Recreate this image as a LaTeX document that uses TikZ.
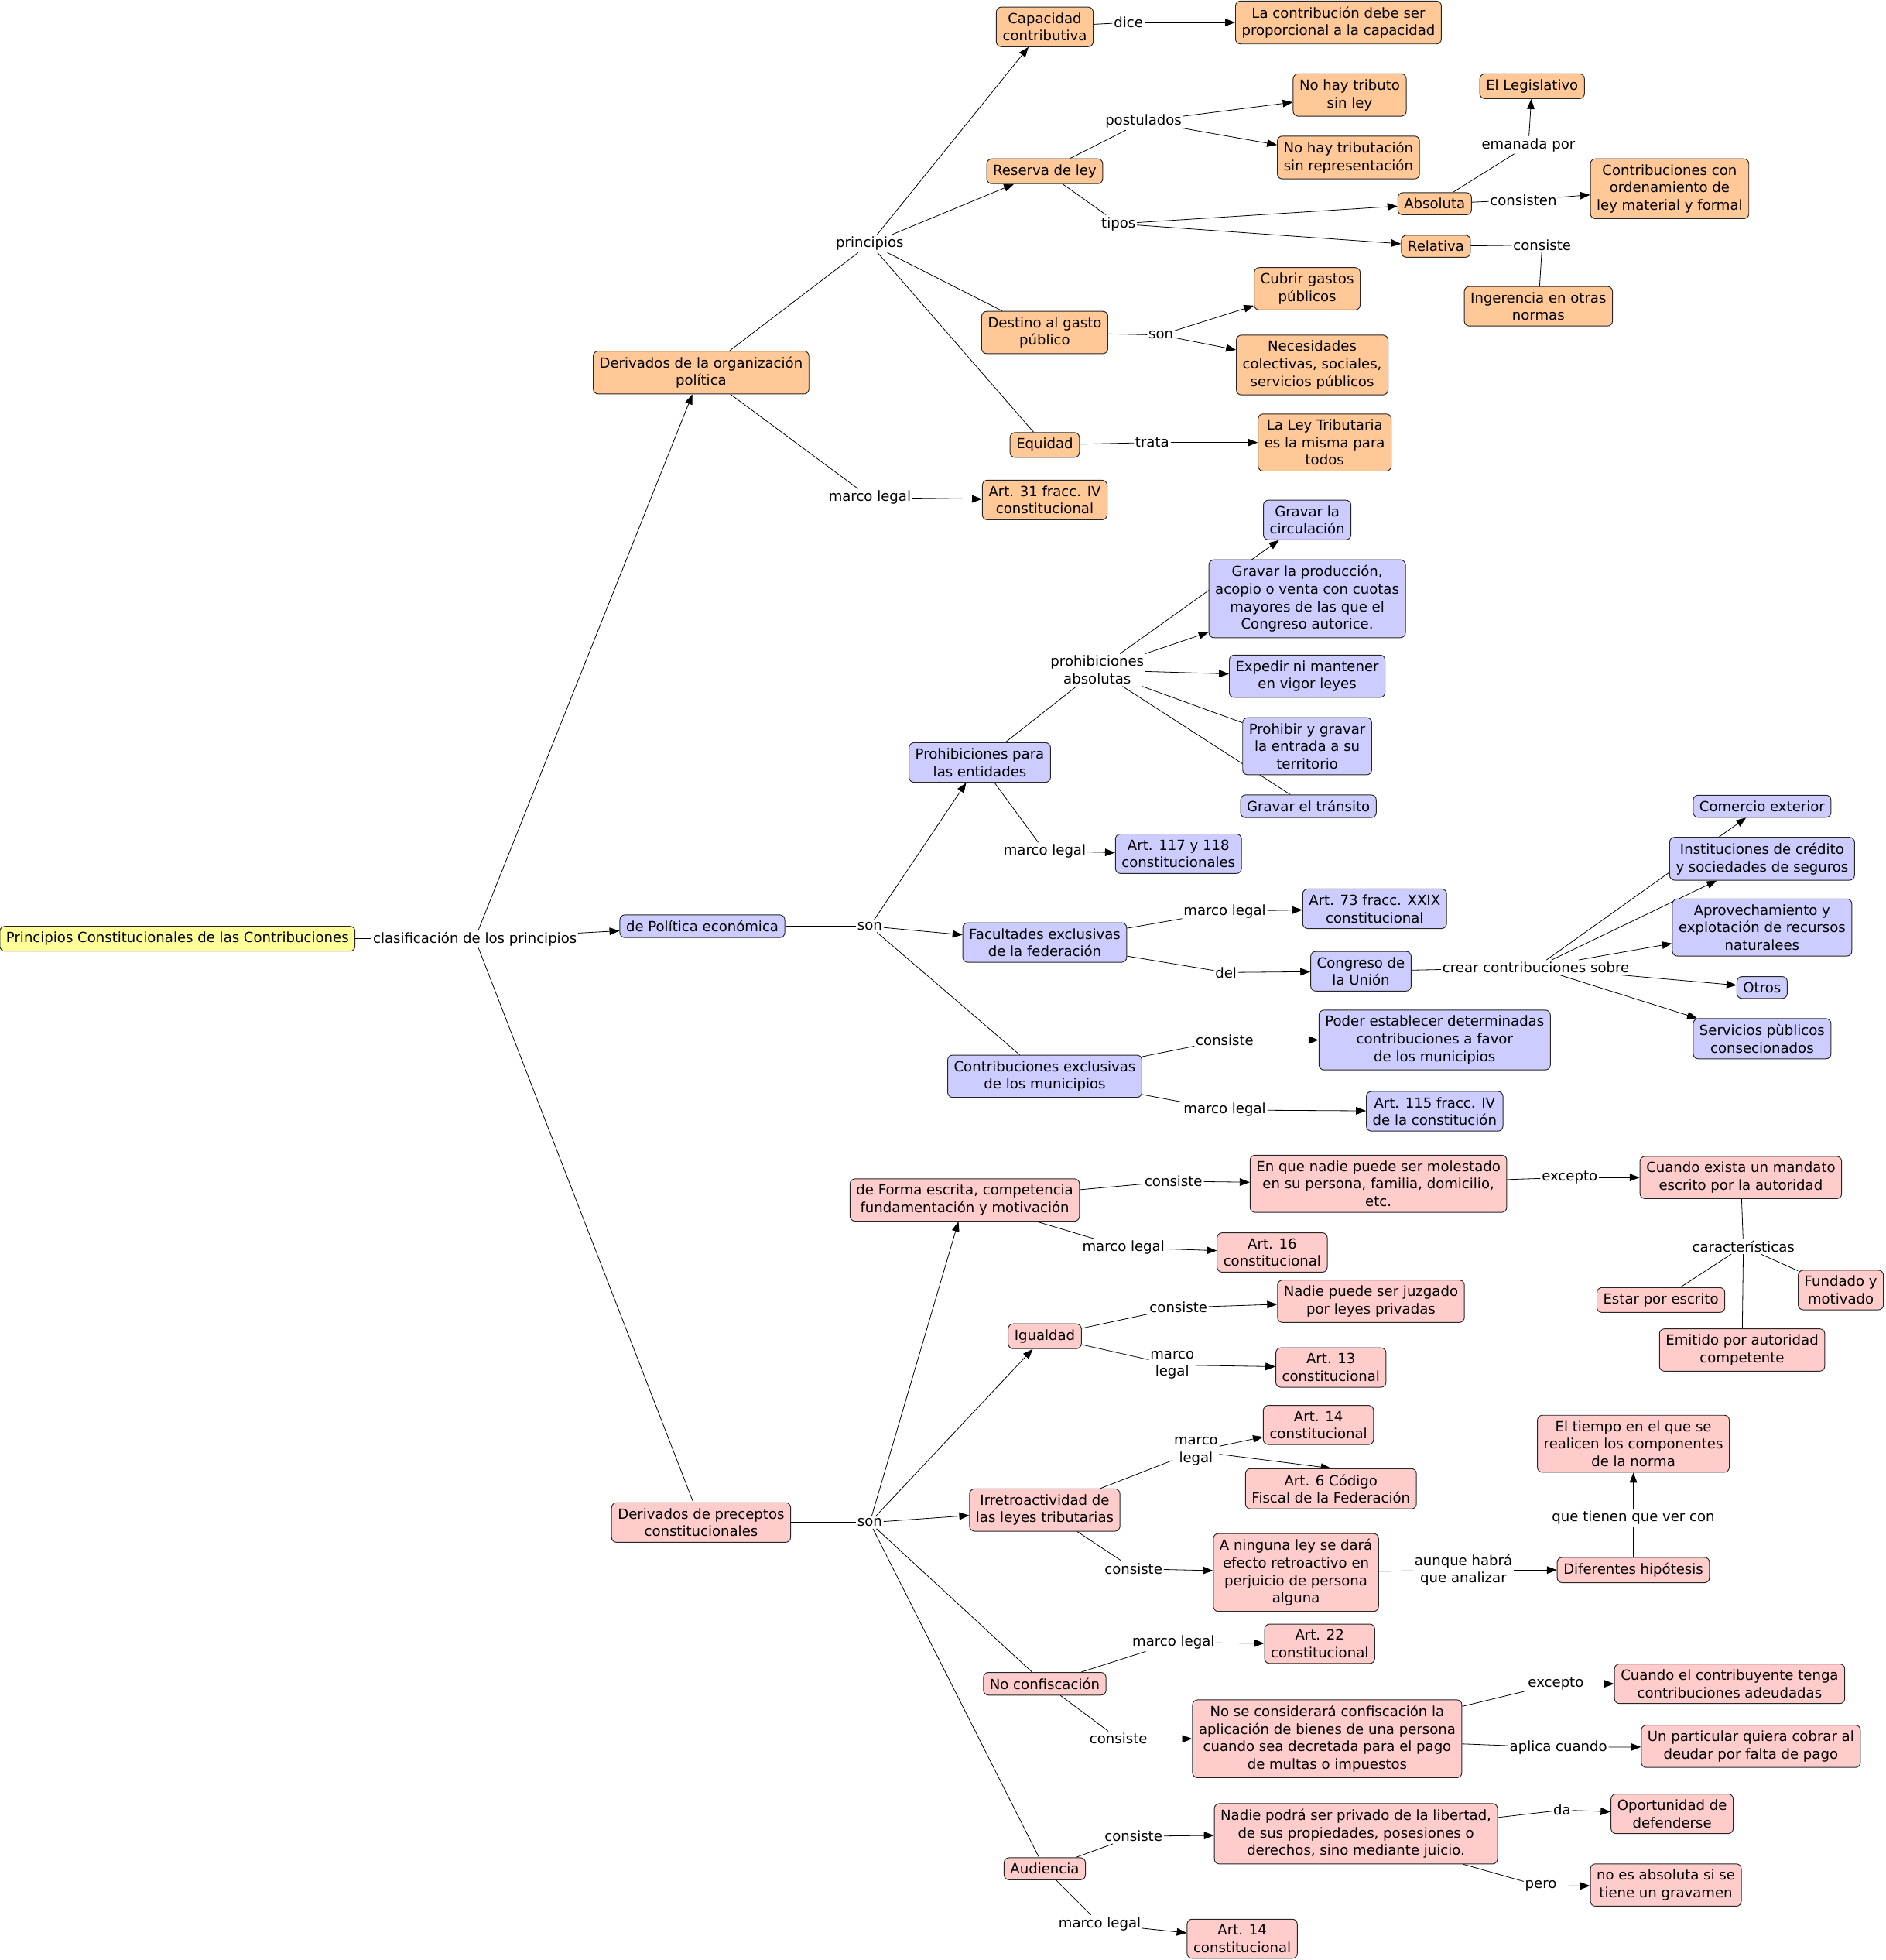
\documentclass[tikz,border=0pt]{standalone}
\usepackage{fontspec}
\setmainfont{DejaVu Sans}
\usetikzlibrary{arrows.meta,backgrounds}
\definecolor{corg}{RGB}{255,200,150}
\definecolor{cblue}{RGB}{204,204,255}
\definecolor{cpink}{RGB}{255,204,204}
\definecolor{cyel}{RGB}{255,255,153}
\tikzset{
  cbox/.style={draw=black!85, line width=0.6pt, rounded corners=4pt, align=center, inner xsep=5pt, inner ysep=4.5pt, font=\fontsize{11.2}{14}\selectfont},
  orgbox/.style={cbox, fill=corg},
  bluebox/.style={cbox, fill=cblue},
  pinkbox/.style={cbox, fill=cpink},
  rootbox/.style={cbox, fill=cyel},
  lp/.style={align=center, inner xsep=1pt, inner ysep=1.5pt, font=\fontsize{11.2}{14}\selectfont},
  conn/.style={line width=0.5pt, draw=black},
  arr/.style={conn, -{Triangle[length=8pt,width=6pt]}},
}
\begin{document}
\begin{tikzpicture}[x=1pt,y=-1pt]
\begin{scope}[on background layer]
\fill[white] (0,0) rectangle (1509,1568);
\end{scope}
\useasboundingbox (0,0) rectangle (1509,1568);
% root
\node[rootbox] (root) at (142,751) {Principios Constitucionales de las Contribuciones};
\node[lp] (clasif) at (380,751) {clasificación de los principios};
\node[orgbox] (orgpol) at (561,298) {Derivados de la organización\\política};
\node[bluebox] (polecon) at (562,741) {de Política económica};
\node[pinkbox] (precep) at (561,1218) {Derivados de preceptos\\constitucionales};
% orange
\node[orgbox] (cap) at (836,21.5) {Capacidad\\contributiva};
\node[lp] (dice) at (903,18) {dice};
\node[orgbox] (lacon) at (1071,18) {La contribución debe ser\\proporcional a la capacidad};
\node[lp] (princ) at (696,195) {principios};
\node[orgbox] (reserva) at (836,137) {Reserva de ley};
\node[lp] (postul) at (915,97) {postulados};
\node[orgbox] (notrib) at (1080,76) {No hay tributo\\sin ley};
\node[orgbox] (notribn) at (1079,126) {No hay tributación\\sin representación};
\node[lp] (tipos) at (895,179) {tipos};
\node[orgbox] (absol) at (1148,163) {Absoluta};
\node[orgbox] (relat) at (1149,197) {Relativa};
\node[lp] (emanada) at (1223,116) {emanada por};
\node[orgbox] (legis) at (1226,69) {El Legislativo};
\node[lp] (consisten) at (1219,160) {consisten};
\node[orgbox] (ordena) at (1336,151) {Contribuciones con\\ordenamiento de\\ley material y formal};
\node[lp] (consR) at (1234,196) {consiste};
\node[orgbox] (ingeren) at (1231,245) {Ingerencia en otras\\normas};
\node[orgbox] (destino) at (836,266) {Destino al gasto\\público};
\node[lp] (son1) at (929,268) {son};
\node[orgbox] (cubrir) at (1046,231) {Cubrir gastos\\públicos};
\node[orgbox] (necesid) at (1050,292) {Necesidades\\colectivas, sociales,\\servicios públicos};
\node[orgbox] (equidad) at (836,356) {Equidad};
\node[lp] (trata) at (922,354) {trata};
\node[orgbox] (leytrib) at (1060,354) {La Ley Tributaria\\es la misma para\\todos};
\node[lp] (mlorg) at (696,398) {marco legal};
\node[orgbox] (art31) at (836,400) {Art. 31 fracc. IV\\constitucional};
% blue
\node[lp] (son2) at (696,741) {son};
\node[bluebox] (prohib) at (784,610) {Prohibiciones para\\las entidades};
\node[lp] (prohabs) at (878,536) {prohibiciones\\absolutas};
\node[bluebox] (circ) at (1046,416) {Gravar la\\circulación};
\node[bluebox] (produc) at (1046,479) {Gravar la producción,\\acopio o venta con cuotas\\mayores de las que el\\Congreso autorice.};
\node[bluebox] (expedir) at (1046,541) {Expedir ni mantener\\en vigor leyes};
\node[bluebox] (entrada) at (1046,597) {Prohibir y gravar\\la entrada a su\\territorio};
\node[bluebox] (transito) at (1047,645) {Gravar el tránsito};
\node[lp] (mlprohib) at (836,681) {marco legal};
\node[bluebox] (art117) at (943,683) {Art. 117 y 118\\constitucionales};
\node[bluebox] (facult) at (836,754) {Facultades exclusivas\\de la federación};
\node[lp] (mlfac) at (980,729) {marco legal};
\node[bluebox] (art73) at (1100,727) {Art. 73 fracc. XXIX\\constitucional};
\node[lp] (del) at (981,778) {del};
\node[bluebox] (congreso) at (1089,777) {Congreso de\\la Unión};
\node[lp] (crear) at (1229,774) {crear contribuciones sobre};
\node[bluebox] (comercio) at (1410,645) {Comercio exterior};
\node[bluebox] (instit) at (1410,687) {Instituciones de crédito\\y sociedades de seguros};
\node[bluebox] (aprov) at (1410,742) {Aprovechamiento y\\explotación de recursos\\naturalees};
\node[bluebox] (otros) at (1410,790) {Otros};
\node[bluebox] (servic) at (1410,831) {Servicios pùblicos\\consecionados};
\node[bluebox] (contmun) at (836,861) {Contribuciones exclusivas\\de los municipios};
\node[lp] (consmun) at (980,832) {consiste};
\node[bluebox] (poder) at (1148,832) {Poder establecer determinadas\\contribuciones a favor\\de los municipios};
\node[lp] (mlmun) at (980,888) {marco legal};
\node[bluebox] (art115) at (1148,889) {Art. 115 fracc. IV\\de la constitución};
% pink
\node[lp] (son3) at (696,1218) {son};
\node[pinkbox] (forma) at (772,960) {de Forma escrita, competencia\\fundamentación y motivación};
\node[lp] (consF) at (939,945) {consiste};
\node[pinkbox] (molest) at (1103,947) {En que nadie puede ser molestado\\en su persona, familia, domicilio,\\etc.};
\node[lp] (exc1) at (1256,942) {excepto};
\node[pinkbox] (mandato) at (1393,942) {Cuando exista un mandato\\escrito por la autoridad};
\node[lp] (caract) at (1395,997) {características};
\node[pinkbox] (escrito) at (1329,1040) {Estar por escrito};
\node[pinkbox] (fundado) at (1473,1032) {Fundado y\\motivado};
\node[pinkbox] (emitido) at (1394,1080) {Emitido por autoridad\\competente};
\node[lp] (mlF) at (899,998) {marco legal};
\node[pinkbox] (art16) at (1018,1002) {Art. 16\\constitucional};
\node[pinkbox] (igual) at (836,1069) {Igualdad};
\node[lp] (consI) at (943,1046) {consiste};
\node[pinkbox] (juzgado) at (1097,1041) {Nadie puede ser juzgado\\por leyes privadas};
\node[lp] (mlI) at (938,1092) {marco\\legal};
\node[pinkbox] (art13) at (1065,1094) {Art. 13\\constitucional};
\node[pinkbox] (irretro) at (836,1208) {Irretroactividad de\\las leyes tributarias};
\node[lp] (mlR) at (957,1161) {marco\\legal};
\node[pinkbox] (art14a) at (1055,1140) {Art. 14\\constitucional};
\node[pinkbox] (art6) at (1065,1191) {Art. 6 Código\\Fiscal de la Federación};
\node[lp] (consR2) at (907,1255) {consiste};
\node[pinkbox] (ninguna) at (1037,1258) {A ninguna ley se dará\\efecto retroactivo en\\perjuicio de persona\\alguna};
\node[lp] (aunque) at (1171,1256) {aunque habrá\\que analizar};
\node[pinkbox] (hipot) at (1307,1256) {Diferentes hipótesis};
\node[lp] (quetienen) at (1307,1214) {que tienen que ver con};
\node[pinkbox] (tiempo) at (1307,1155) {El tiempo en el que se\\realicen los componentes\\de la norma};
\node[pinkbox] (noconf) at (836,1347) {No confiscación};
\node[lp] (mlN) at (939,1314) {marco legal};
\node[pinkbox] (art22) at (1056,1315) {Art. 22\\constitucional};
\node[lp] (consN) at (895,1391) {consiste};
\node[pinkbox] (nocons) at (1062,1391) {No se considerará confiscación la\\aplicación de bienes de una persona\\cuando sea decretada para el pago\\de multas o impuestos};
\node[lp] (exc2) at (1245,1347) {excepto};
\node[pinkbox] (adeud) at (1384,1347) {Cuando el contribuyente tenga\\contribuciones adeudadas};
\node[lp] (aplica) at (1247,1398) {aplica cuando};
\node[pinkbox] (particular) at (1401,1397) {Un particular quiera cobrar al\\deudar por falta de pago};
\node[pinkbox] (audien) at (836,1495) {Audiencia};
\node[lp] (consA) at (907,1469) {consiste};
\node[pinkbox] (privado) at (1085,1467) {Nadie podrá ser privado de la libertad,\\de sus propiedades, posesiones o\\derechos, sino mediante juicio.};
\node[lp] (da) at (1250,1448) {da};
\node[pinkbox] (oport) at (1338,1451) {Oportunidad de\\defenderse};
\node[lp] (pero) at (1233,1509) {pero};
\node[pinkbox] (noabs) at (1333,1508) {no es absoluta si se\\tiene un gravamen};
\node[lp] (mlA) at (880,1539) {marco legal};
\node[pinkbox] (art14b) at (994,1551) {Art. 14\\constitucional};
% connectors
\begin{scope}[on background layer]
\draw[conn] (root) -- (clasif);
\draw[arr] (clasif) -- (orgpol);
\draw[arr] (clasif) -- (polecon);
\draw[conn] (clasif) -- (precep);
% orange
\draw[conn] (orgpol) -- (princ);
\draw[arr] (princ) -- (cap);
\draw[arr] (princ) -- (reserva);
\draw[conn] (princ) -- (destino);
\draw[conn] (princ) -- (equidad);
\draw[conn] (cap) -- (dice);
\draw[arr] (dice) -- (lacon);
\draw[conn] (reserva) -- (postul);
\draw[arr] (postul) -- (notrib);
\draw[arr] (postul) -- (notribn);
\draw[conn] (reserva) -- (tipos);
\draw[arr] (tipos) -- (absol);
\draw[arr] (tipos) -- (relat);
\draw[conn] (absol) -- (emanada);
\draw[arr] (emanada) -- (legis);
\draw[conn] (absol) -- (consisten);
\draw[arr] (consisten) -- (ordena);
\draw[conn] (relat) -- (consR);
\draw[conn] (consR) -- (ingeren);
\draw[conn] (destino) -- (son1);
\draw[arr] (son1) -- (cubrir);
\draw[arr] (son1) -- (necesid);
\draw[conn] (equidad) -- (trata);
\draw[arr] (trata) -- (leytrib);
\draw[conn] (orgpol) -- (mlorg);
\draw[arr] (mlorg) -- (art31);
% blue
\draw[conn] (polecon) -- (son2);
\draw[arr] (son2) -- (prohib);
\draw[arr] (son2) -- (facult);
\draw[conn] (son2) -- (contmun);
\draw[conn] (prohib) -- (prohabs);
\draw[arr] (prohabs) -- (circ);
\draw[arr] (prohabs) -- (produc);
\draw[arr] (prohabs) -- (expedir);
\draw[conn] (prohabs) -- (entrada);
\draw[conn] (prohabs) -- (transito);
\draw[conn] (prohib) -- (mlprohib);
\draw[arr] (mlprohib) -- (art117);
\draw[conn] (facult) -- (mlfac);
\draw[arr] (mlfac) -- (art73);
\draw[conn] (facult) -- (del);
\draw[arr] (del) -- (congreso);
\draw[conn] (congreso) -- (crear);
\draw[arr] (crear) -- (comercio);
\draw[arr] (crear) -- (instit);
\draw[arr] (crear) -- (aprov);
\draw[arr] (crear) -- (otros);
\draw[arr] (crear) -- (servic);
\draw[conn] (contmun) -- (consmun);
\draw[arr] (consmun) -- (poder);
\draw[conn] (contmun) -- (mlmun);
\draw[arr] (mlmun) -- (art115);
% pink
\draw[conn] (precep) -- (son3);
\draw[arr] (son3) -- (forma);
\draw[arr] (son3) -- (igual);
\draw[arr] (son3) -- (irretro);
\draw[conn] (son3) -- (noconf);
\draw[conn] (son3) -- (audien);
\draw[conn] (forma) -- (consF);
\draw[arr] (consF) -- (molest);
\draw[conn] (molest) -- (exc1);
\draw[arr] (exc1) -- (mandato);
\draw[conn] (mandato) -- (caract);
\draw[conn] (caract) -- (escrito);
\draw[conn] (caract) -- (fundado);
\draw[conn] (caract) -- (emitido);
\draw[conn] (forma) -- (mlF);
\draw[arr] (mlF) -- (art16);
\draw[conn] (igual) -- (consI);
\draw[arr] (consI) -- (juzgado);
\draw[conn] (igual) -- (mlI);
\draw[arr] (mlI) -- (art13);
\draw[conn] (irretro) -- (mlR);
\draw[arr] (mlR) -- (art14a);
\draw[arr] (mlR) -- (art6.north);
\draw[conn] (irretro) -- (consR2);
\draw[arr] (consR2) -- (ninguna);
\draw[conn] (ninguna) -- (aunque);
\draw[arr] (aunque) -- (hipot);
\draw[conn] (hipot) -- (quetienen);
\draw[arr] (quetienen) -- (tiempo);
\draw[conn] (noconf) -- (mlN);
\draw[arr] (mlN) -- (art22);
\draw[conn] (noconf) -- (consN);
\draw[arr] (consN) -- (nocons);
\draw[conn] (nocons) -- (exc2);
\draw[arr] (exc2) -- (adeud);
\draw[conn] (nocons) -- (aplica);
\draw[arr] (aplica) -- (particular);
\draw[conn] (audien) -- (consA);
\draw[arr] (consA) -- (privado);
\draw[conn] (privado) -- (da);
\draw[arr] (da) -- (oport);
\draw[conn] (privado) -- (pero);
\draw[arr] (pero) -- (noabs);
\draw[conn] (audien) -- (mlA);
\draw[arr] (mlA) -- (art14b);
\end{scope}
\end{tikzpicture}
\end{document}
